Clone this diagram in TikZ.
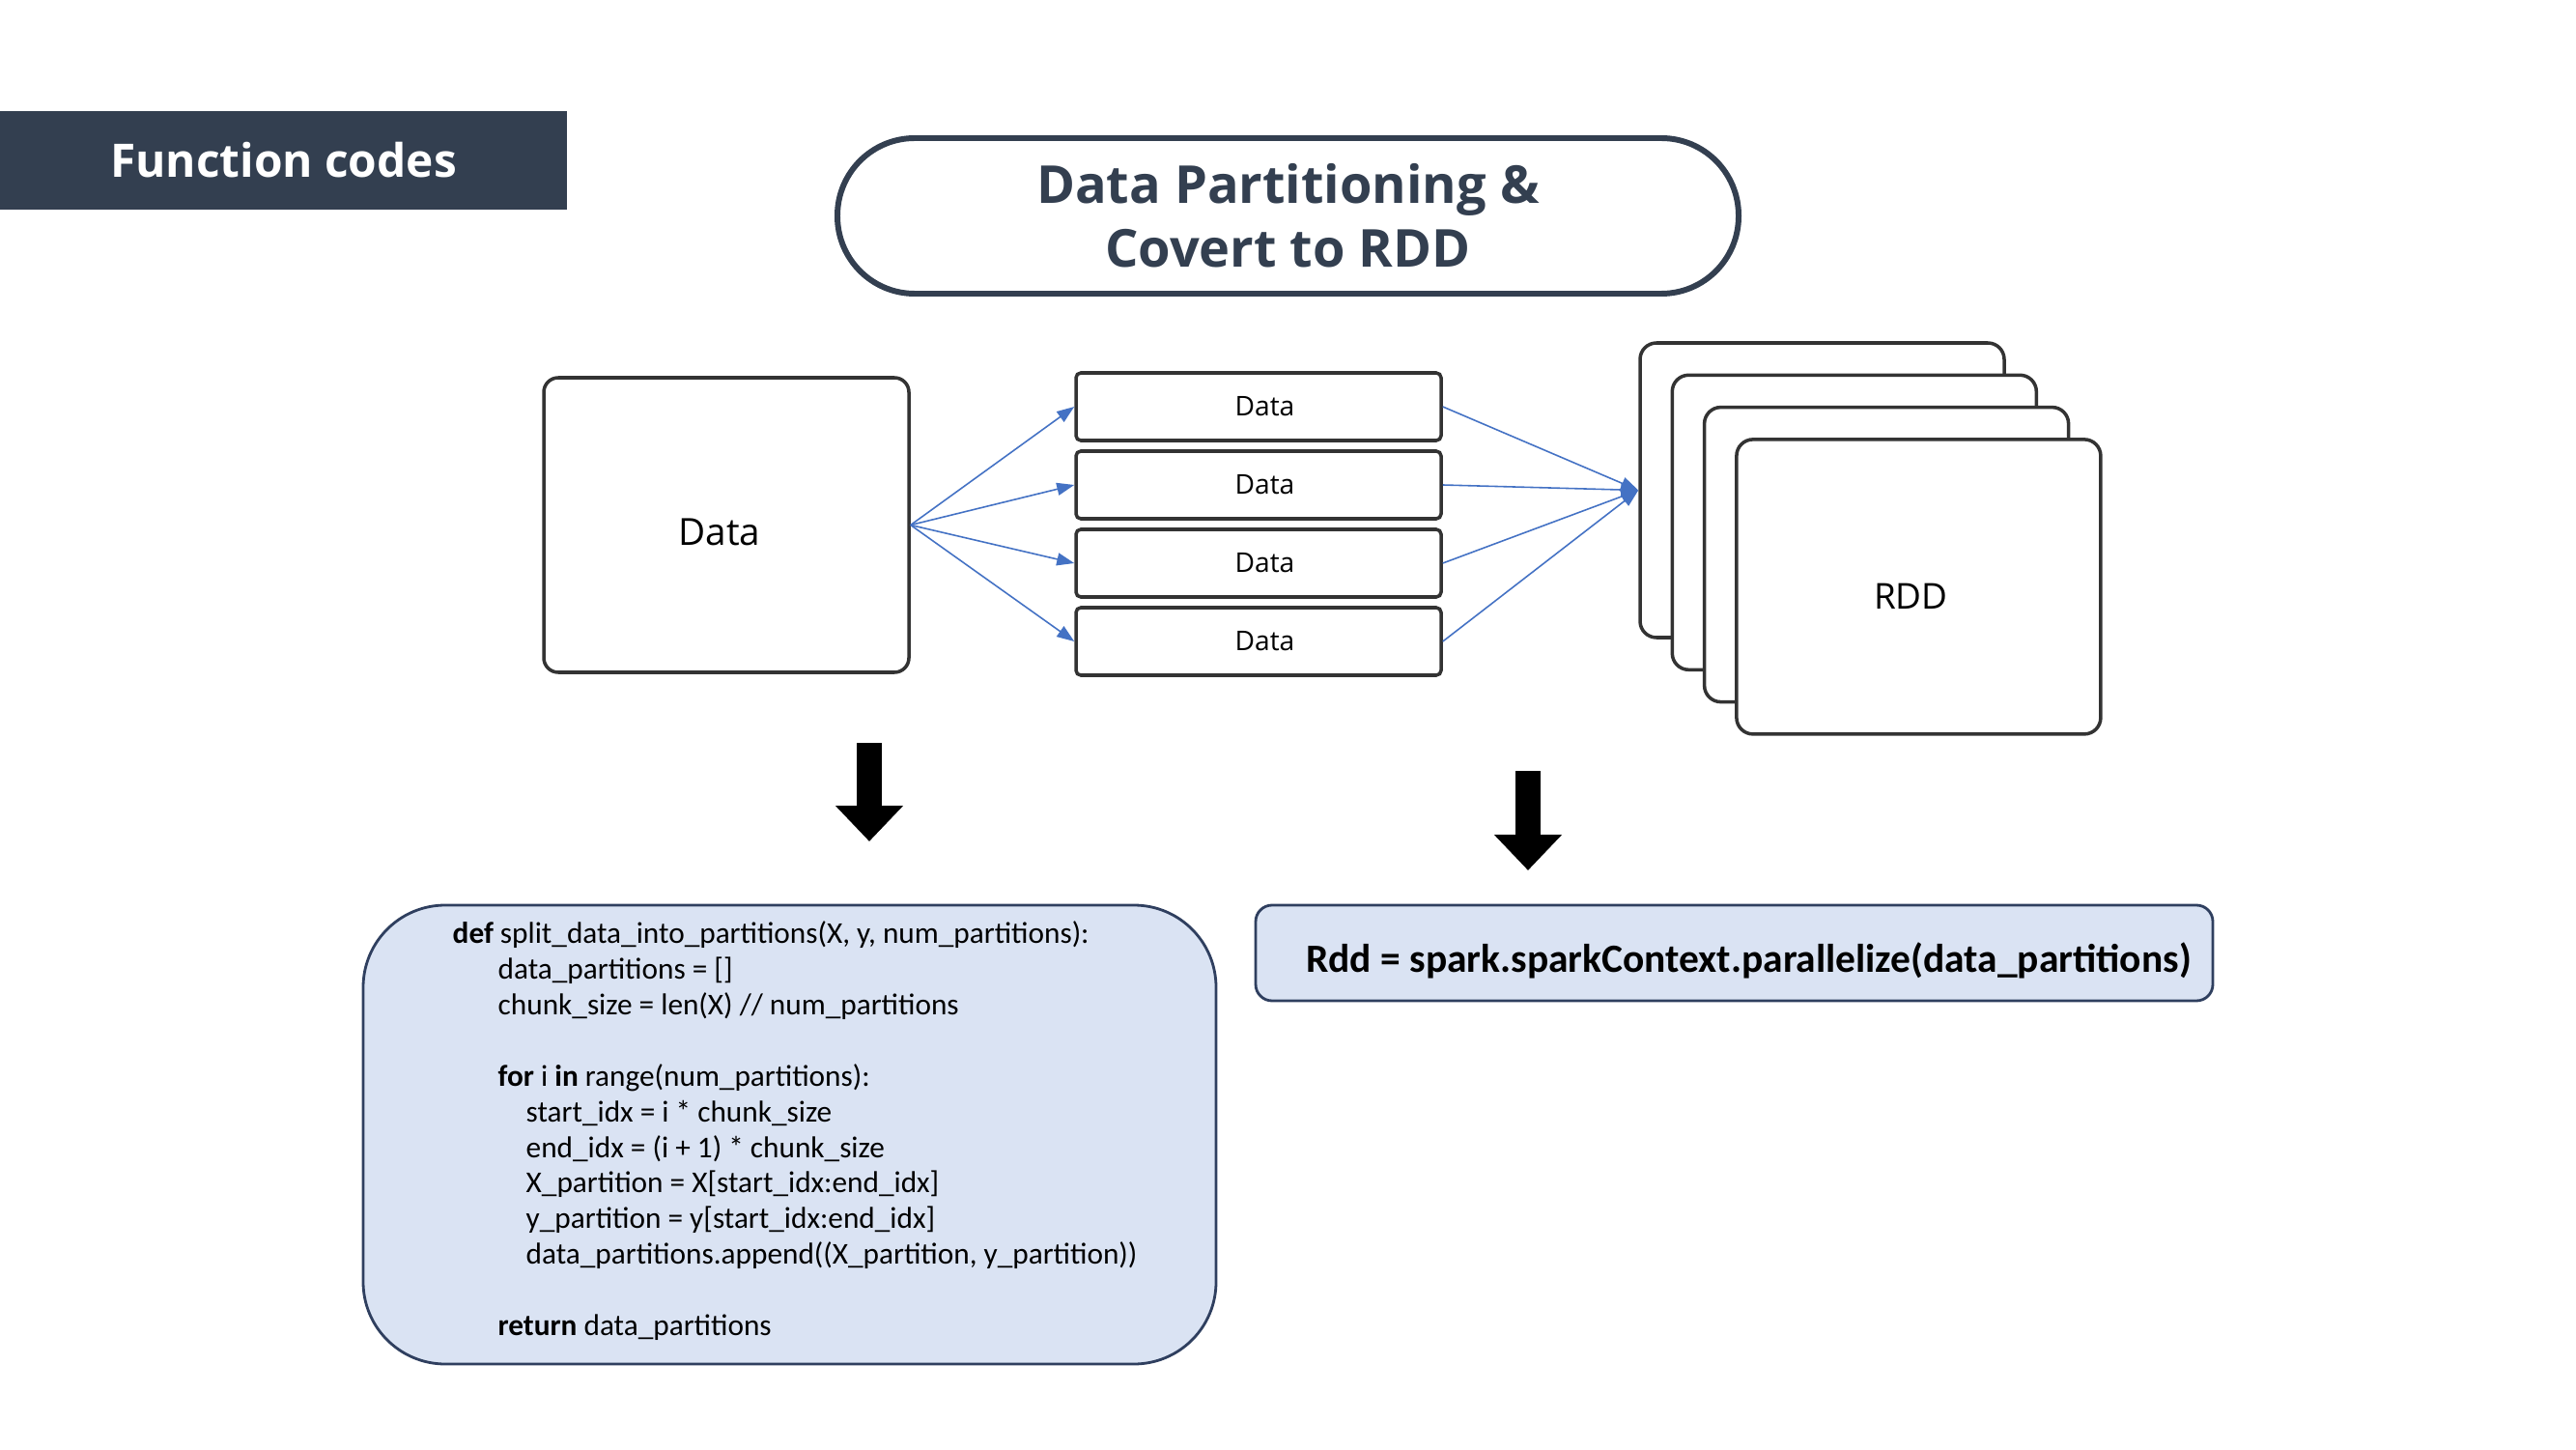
\documentclass[tikz,border=0pt]{standalone}
\usepackage{fontspec}
\setmainfont{Open Sans}
\newfontfamily\codefont{Carlito}
\usetikzlibrary{arrows.meta,positioning}

\definecolor{slate}{HTML}{333F50}
\definecolor{linkblue}{HTML}{4472C4}
\definecolor{codefill}{HTML}{DAE3F3}
\definecolor{codeline}{HTML}{2F3F5F}

\tikzset{
  box/.style={draw=black!80, line width=1pt, rounded corners=0.15cm, fill=white},
  part/.style={box, rounded corners=0.05cm, minimum width=3.78cm, minimum height=0.7cm, font=\fontsize{8}{10}\selectfont},
  link/.style={linkblue, line width=0.45pt, -{Triangle[length=0.18cm,width=0.13cm]}},
  downarrow/.style={line width=0.26cm, -{Triangle[length=0.37cm,width=0.68cm]}},
  codebox/.style={draw=codeline, fill=codefill, line width=0.8pt},
}

\begin{document}
\begin{tikzpicture}
    \useasboundingbox (0,0) rectangle (26.67,15);

    % header and title
    \node[fill=slate, minimum width=5.87cm, minimum height=1.02cm, text=white,
          font=\bfseries\fontsize{13.6}{16}\selectfont] (header) at (2.935,13.34) {Function codes};
    \node[draw=slate, line width=1.7pt, rounded corners=0.8cm, minimum width=9.33cm, minimum height=1.61cm,
          text=slate, align=center, font=\bfseries\fontsize{15.4}{18.8}\selectfont] (title) at (13.335,12.765)
          {Data Partitioning \&\\Covert to RDD};

    % data and partitions
    \node[box, minimum width=3.78cm, minimum height=3.05cm] (data) at (7.52,9.565) {};
    \node[font=\fontsize{11}{13}\selectfont] at ([xshift=-0.07cm,yshift=-0.07cm]data.center) {Data};
    \node[part] (part1) at (13.03,10.79) {\hspace*{0.13cm}Data};
    \node[part] (part2) at (13.03,9.98) {\hspace*{0.13cm}Data};
    \node[part] (part3) at (13.03,9.17) {\hspace*{0.13cm}Data};
    \node[part] (part4) at (13.03,8.36) {\hspace*{0.13cm}Data};

    % rdd stack
    \foreach \i in {1,...,4}
        \node[box, rounded corners=0.17cm, minimum width=3.77cm, minimum height=3.05cm] (rdd\i)
            at ({18.865+(\i-1)*0.333},{9.925-(\i-1)*0.333}) {};
    \node[font=\fontsize{10.5}{13}\selectfont] at ([xshift=-0.08cm,yshift=-0.1cm]rdd4.center) {RDD};

    \foreach \i in {1,...,4} {
        \draw[link] (data.east) -- (part\i.west);
        \draw[link] (part\i.east) -- (rdd1.west);
    }

    % down arrows
    \coordinate (down1s) at (9.00,7.31);
    \coordinate (down1e) at (9.00,6.29);
    \coordinate (down2s) at (15.82,7.02);
    \coordinate (down2e) at (15.82,5.99);
    \draw[downarrow] (down1s) -- (down1e);
    \draw[downarrow] (down2s) -- (down2e);

    % code
    \node[codebox, rounded corners=0.85cm, minimum width=8.83cm, minimum height=4.75cm] (codepanel) at (8.175,3.255) {};
    \node[anchor=north west, inner sep=0pt, align=left, font=\codefont\fontsize{8.9}{10.5}\selectfont] (code) at (4.68,5.47)
        {\textbf{def} split\_data\_into\_partitions(X, y, num\_partitions):\\
         \hspace*{0.47cm}data\_partitions = []\\
         \hspace*{0.47cm}chunk\_size = len(X) // num\_partitions\\
         \mbox{}\\
         \hspace*{0.47cm}\textbf{for} i \textbf{in} range(num\_partitions):\\
         \hspace*{0.76cm}start\_idx = i * chunk\_size\\
         \hspace*{0.76cm}end\_idx = (i + 1) * chunk\_size\\
         \hspace*{0.76cm}X\_partition = X[start\_idx:end\_idx]\\
         \hspace*{0.76cm}y\_partition = y[start\_idx:end\_idx]\\
         \hspace*{0.76cm}data\_partitions.append((X\_partition, y\_partition))\\
         \mbox{}\\
         \hspace*{0.47cm}\textbf{return} data\_partitions};
    \node[codebox, rounded corners=0.17cm, minimum width=9.91cm, minimum height=0.99cm] (rddcode) at (17.955,5.135) {};
    \node[font=\codefont\bfseries\fontsize{11.8}{14}\selectfont] at ([xshift=0.15cm,yshift=-0.08cm]rddcode.center)
          {Rdd = spark.sparkContext.parallelize(data\_partitions)};
\end{tikzpicture}
\end{document}
